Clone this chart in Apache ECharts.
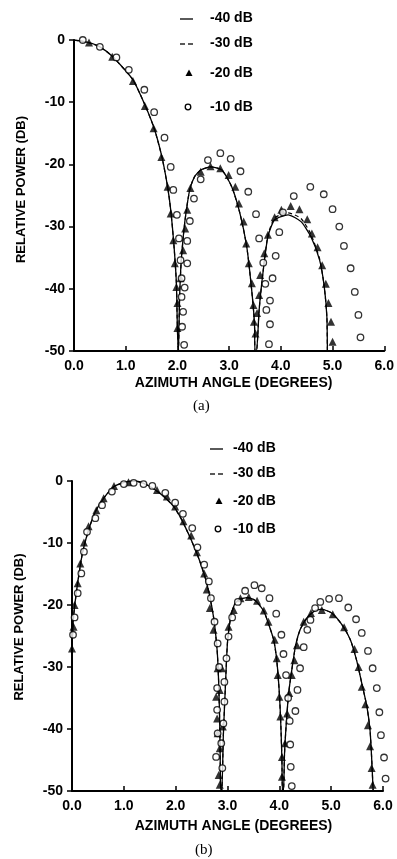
<!DOCTYPE html>
<html>
<head>
<meta charset="utf-8">
<script src="https://cdn.jsdelivr.net/npm/echarts@6/dist/echarts.min.js"></script>
<style>
html,body{margin:0;padding:0;background:#fff;}
#chart{width:397px;height:859px;}
</style>
</head>
<body>
<div id="chart"></div>
<script>
// ---------- tick labels / names ----------
const xTickLabels = ['0.0','1.0','2.0','3.0','4.0','5.0','6.0'];
const yTickLabels = ['-50','-40','-30','-20','-10','0'];
const seriesNames = ['-40 dB','-30 dB','-20 dB','-10 dB'];
const xAxisTitle = 'AZIMUTH ANGLE (DEGREES)';
const yAxisTitle = 'RELATIVE POWER (DB)';
const panelCaptions = ['(a)','(b)'];

// ---------- panel (a) ----------
const a_m40 = [[0,0],[0.27,-0.4],[0.50,-1.1],[0.75,-2.7],[1.14,-6.4],[1.37,-10.4],[1.55,-14.2],[1.70,-18.8],[1.81,-23.6],[1.87,-27.3],[1.93,-32.7],[1.98,-39.1],[2.00,-46.6],[2.02,-50],
  [2.04,-42],[2.07,-36],[2.12,-31],[2.17,-27.5],[2.24,-24],[2.33,-22],[2.45,-20.9],[2.64,-20.4],[2.86,-20.9],[3.05,-23.6],[3.21,-27.9],[3.34,-33.2],[3.43,-39.7],[3.49,-45.5],[3.50,-50],
  [3.53,-50],[3.58,-43.4],[3.66,-37],[3.75,-31.6],[3.88,-28.9],[4.14,-28.1],[4.39,-29.2],[4.58,-31.6],[4.75,-35.4],[4.84,-39.7],[4.89,-44.5],[4.90,-50]];
const a_m30 = [[0,0],[0.27,-0.4],[0.50,-1.1],[0.75,-2.7],[1.14,-6.4],[1.37,-10.4],[1.55,-14.2],[1.70,-18.8],[1.81,-23.6],[1.87,-27.3],[1.93,-32.7],[1.98,-39.1],[2.00,-46.6],[2.02,-50],
  [2.04,-42],[2.07,-36],[2.12,-31],[2.17,-27.5],[2.24,-24],[2.33,-22],[2.45,-20.9],[2.64,-20.4],[2.86,-20.9],[3.05,-23.6],[3.21,-27.9],[3.34,-33.2],[3.43,-39.7],[3.49,-45.5],[3.50,-50],
  [3.53,-50],[3.58,-43.4],[3.66,-37],[3.75,-31.4],[3.88,-28.6],[4.14,-27.8],[4.39,-28.7],[4.58,-31.2],[4.75,-35.2],[4.84,-39.7],[4.89,-44.5],[4.90,-50]];
const a_m20 = [[0.29,-0.4],[0.74,-2.7],[1.14,-6.6],[1.37,-10.6],[1.54,-14.2],[1.69,-18.8],[1.81,-23.6],[1.87,-27.9],[1.92,-32.2],[1.95,-35.9],[1.98,-39.7],[2.00,-42.3],[2.00,-46.3],
  [2.06,-38.3],[2.11,-33.8],[2.15,-30.3],[2.19,-27.3],[2.25,-23.8],[2.45,-21.2],[2.64,-20.3],[2.83,-20.6],[2.99,-21.7],[3.12,-23.6],[3.19,-26.3],[3.28,-29.2],[3.33,-32.7],[3.38,-35.9],[3.44,-39.1],[3.47,-42.6],[3.48,-45.3],[3.51,-47.2],
  [3.54,-43.9],[3.58,-41],[3.60,-37.8],[3.68,-34.3],[3.75,-31.3],[3.88,-28.5],[4.01,-27.3],[4.19,-26.7],[4.36,-27.2],[4.51,-28.8],[4.60,-31.1],[4.71,-33.3],[4.80,-36.2],[4.87,-39.2],[4.92,-42.3],[4.97,-45.3],[5.00,-48.5]];
const a_m10 = [[0.17,0],[0.50,-1.1],[0.82,-2.8],[1.06,-4.8],[1.36,-8.0],[1.55,-11.6],[1.75,-15.7],[1.87,-20.4],[1.92,-24.1],[1.99,-28.1],[2.03,-31.9],[2.06,-35.4],[2.08,-38.3],[2.08,-41.3],[2.11,-43.7],[2.09,-46.1],[2.13,-49.0],
  [2.14,-39.8],[2.19,-35.9],[2.19,-32.3],[2.24,-29.1],[2.32,-25.5],[2.45,-22.4],[2.59,-19.3],[2.83,-18.2],[3.03,-19.1],[3.22,-21.1],[3.37,-24.4],[3.52,-28.0],[3.58,-31.9],[3.66,-35.8],[3.70,-39.2],[3.72,-43.4],[3.77,-48.9],
  [3.79,-45.7],[3.79,-41.9],[3.84,-38.3],[3.90,-34.7],[3.97,-30.9],[4.04,-27.7],[4.25,-25.1],[4.57,-23.6],[4.83,-24.8],[5.00,-27.2],[5.13,-30.0],[5.22,-33.1],[5.35,-36.7],[5.43,-40.5],[5.50,-44.2],[5.54,-47.8]];

// ---------- panel (b) ----------
const b_m40 = [[0,-27],[0.03,-21.9],[0.10,-17.0],[0.20,-11.7],[0.32,-7.9],[0.45,-4.95],[0.61,-2.8],[0.81,-0.9],[1.06,-0.1],[1.22,0],[1.45,-0.65],[1.70,-2.0],[1.96,-4.1],[2.15,-6.8],[2.41,-11.7],[2.60,-16.5],[2.73,-21.9],[2.80,-27.3],[2.83,-32.6],[2.85,-39.1],[2.86,-45.5],[2.87,-50],
  [2.89,-50],[2.92,-41],[2.96,-33],[3.00,-26],[3.06,-22],[3.13,-20],[3.21,-19.2],[3.38,-18.8],[3.54,-19.3],[3.70,-21.0],[3.79,-23.0],[3.89,-25.6],[3.95,-28.9],[4.00,-34.2],[4.03,-39.6],[4.05,-45.0],[4.06,-50],
  [4.08,-50],[4.10,-44],[4.13,-39.6],[4.18,-34.2],[4.24,-30.5],[4.31,-26.7],[4.40,-24.0],[4.53,-22.1],[4.69,-20.9],[4.82,-20.7],[5.01,-21.3],[5.21,-23.2],[5.37,-25.6],[5.49,-28.9],[5.59,-32.6],[5.69,-36.4],[5.75,-40.2],[5.78,-44.5],[5.81,-50]];
const b_m30 = [[0,-27],[0.03,-21.9],[0.10,-17.0],[0.20,-11.7],[0.32,-7.9],[0.45,-4.95],[0.61,-2.8],[0.81,-0.9],[1.06,-0.1],[1.22,0],[1.45,-0.65],[1.70,-2.0],[1.96,-4.1],[2.15,-6.8],[2.41,-11.7],[2.60,-16.5],[2.73,-21.9],[2.80,-27.3],[2.83,-32.6],[2.85,-39.1],[2.86,-45.5],[2.87,-50],
  [2.89,-50],[2.92,-41],[2.96,-33],[3.00,-26],[3.06,-22],[3.13,-20],[3.21,-19.2],[3.38,-18.8],[3.54,-19.3],[3.70,-21.0],[3.79,-23.0],[3.89,-25.6],[3.95,-28.9],[4.00,-34.2],[4.03,-39.6],[4.05,-45.0],[4.06,-50],
  [4.08,-50],[4.10,-44],[4.13,-39.6],[4.18,-34.2],[4.24,-30.5],[4.31,-26.7],[4.40,-24.0],[4.53,-22.1],[4.69,-20.9],[4.82,-20.7],[5.01,-21.3],[5.21,-23.2],[5.37,-25.6],[5.49,-28.9],[5.59,-32.6],[5.69,-36.4],[5.75,-40.2],[5.78,-44.5],[5.81,-50]];
const b_m20 = [[0,-27],[0.03,-23.5],[0.05,-20],[0.11,-16.5],[0.16,-13.3],[0.23,-9.9],[0.32,-7.3],[0.47,-4.7],[0.61,-2.8],[0.81,-0.8],[1.09,-0.2],[1.64,-1.45],[1.83,-2.5],[1.99,-4.1],[2.15,-6.5],[2.30,-8.8],[2.41,-11.5],[2.55,-14.9],[2.60,-17.5],[2.66,-20.5],[2.73,-24.0],[2.81,-30.2],[2.85,-33.7],[2.78,-34.8],[2.80,-38.3],[2.81,-40.7],[2.85,-43.1],[2.83,-47.4],[2.85,-49.0],
  [2.89,-30.2],[2.91,-39.6],[3.02,-23.5],[3.12,-20.8],[3.25,-18.9],[3.41,-18.7],[3.57,-19.3],[3.70,-20.9],[3.79,-22.7],[3.91,-25.6],[3.95,-28.6],[3.97,-31.3],[4.00,-34.8],[4.02,-38.0],[4.05,-44.5],[4.05,-47.7],
  [4.11,-42.3],[4.15,-37.5],[4.19,-34.2],[4.24,-31.3],[4.29,-28.9],[4.34,-26.5],[4.47,-22.7],[4.61,-21.3],[4.82,-20.8],[5.03,-21.5],[5.25,-23.6],[5.45,-27.1],[5.53,-30.0],[5.59,-33.2],[5.66,-36.0],[5.71,-39.4],[5.75,-42.8],[5.78,-46.3],[5.80,-49.0]];
const b_m10 = [[0.02,-24.8],[0.05,-22.0],[0.11,-18.1],[0.18,-14.9],[0.23,-11.4],[0.29,-8.2],[0.45,-6.0],[0.58,-3.9],[0.77,-1.7],[1.00,-0.5],[1.19,-0.3],[1.38,-0.5],[1.55,-0.8],[1.80,-1.9],[1.99,-3.5],[2.14,-5.3],[2.32,-7.6],[2.42,-10.7],[2.55,-13.5],[2.64,-16.2],[2.68,-18.9],[2.75,-22.7],[2.81,-26.2],[2.84,-30.0],[2.80,-33.4],[2.80,-36.9],[2.81,-40.7],[2.78,-44.5],
  [2.90,-46.3],[2.88,-42.3],[2.92,-39.1],[2.94,-35.6],[2.94,-32.4],[2.98,-28.6],[3.02,-25.1],[3.09,-22.0],[3.20,-19.5],[3.34,-17.7],[3.52,-16.8],[3.66,-17.3],[3.81,-18.9],[3.94,-21.4],[4.04,-24.8],[4.08,-27.9],[4.13,-31.3],[4.17,-35.0],[4.20,-38.7],[4.21,-42.5],[4.22,-46.1],[4.24,-49.2],
  [4.31,-37.1],[4.35,-33.7],[4.40,-30.2],[4.47,-26.8],[4.54,-24.0],[4.60,-22.4],[4.69,-20.5],[4.79,-19.5],[4.96,-19.0],[5.15,-18.9],[5.33,-20.4],[5.48,-22.3],[5.59,-24.5],[5.71,-27.4],[5.80,-30.2],[5.88,-33.4],[5.93,-37.3],[5.96,-41.0],[6.02,-44.6],[6.05,-48.0]];

const panelData = [[a_m40,a_m30,a_m20,a_m10],[b_m40,b_m30,b_m20,b_m10]];

// ---------- styling ----------
const FONT = "'Liberation Sans', Arial, sans-serif";
const grids = [
  {left:74, top:40, width:313, height:311},
  {left:72, top:481, width:311, height:310}
];
const xNameGap = [25, 28];
const yNameGap = [46, 46];
const xNamePad = [[0,0,0,9],[0,0,0,12]];
const yNamePad = [[0,0,0,12],[0,0,0,18]];

function xAxisFor(i){
  return {
    gridIndex:i, type:'value', min:0, max:6, interval:1,
    name:xAxisTitle, nameLocation:'middle', nameGap:xNameGap[i],
    nameTextStyle:{fontFamily:FONT, fontWeight:'bold', fontSize:14, color:'#000', padding:xNamePad[i]},
    axisLine:{show:true, onZero:false, lineStyle:{color:'#000', width:2}},
    axisTick:{show:true, inside:true, length:5, lineStyle:{color:'#000', width:1.5}},
    axisLabel:{margin:8, fontFamily:FONT, fontWeight:'bold', fontSize:14, color:'#000',
      formatter:v => xTickLabels[Math.round(v)]},
    splitLine:{show:false}
  };
}
function yAxisFor(i){
  return {
    gridIndex:i, type:'value', min:-50, max:0, interval:10,
    name:yAxisTitle, nameLocation:'middle', nameGap:yNameGap[i], nameRotate:90,
    nameTextStyle:{fontFamily:FONT, fontWeight:'bold', fontSize:13, color:'#000', padding:yNamePad[i]},
    axisLine:{show:true, onZero:false, lineStyle:{color:'#000', width:2}},
    axisTick:{show:true, inside:false, length:5, lineStyle:{color:'#000', width:1.5}},
    axisLabel:{margin:9, fontFamily:FONT, fontWeight:'bold', fontSize:14, color:'#000',
      formatter:v => yTickLabels[Math.round((v+50)/10)]},
    splitLine:{show:false}
  };
}

const series = [];
for (let i=0;i<2;i++){
  const d = panelData[i];
  series.push({name:seriesNames[0], type:'line', xAxisIndex:i, yAxisIndex:i, data:d[0], symbol:'none', smooth:0.2,
    lineStyle:{color:'#000', width:1.3}, itemStyle:{color:'#000'}, z:2});
  series.push({name:seriesNames[1], type:'line', xAxisIndex:i, yAxisIndex:i, data:d[1], symbol:'none', smooth:0.2,
    lineStyle:{color:'#000', width:1.2, type:[4,3]}, itemStyle:{color:'#000'}, z:3});
  series.push({name:seriesNames[2], type:'scatter', xAxisIndex:i, yAxisIndex:i, data:d[2], symbol:'triangle', symbolSize:8,
    itemStyle:{color:'#000'}, clip:false, z:4});
  series.push({name:seriesNames[3], type:'scatter', xAxisIndex:i, yAxisIndex:i, data:d[3], symbol:'circle', symbolSize:6.5,
    itemStyle:{color:'#fff', borderColor:'#000', borderWidth:1.3}, clip:false, z:5});
}

// ---------- legend key (drawn as graphic) ----------
const keyRows = [[18,43,73,107],[448,473,501,529]];
const keyIconLeft = [180, 210];
const keyTextLeft = [210, 233];

function keyGroup(p){
  const x0 = keyIconLeft[p], r = keyRows[p], tx = keyTextLeft[p];
  const ch = [
    {type:'line', shape:{x1:x0, y1:r[0]+1, x2:x0+13, y2:r[0]+1}, style:{stroke:'#000', lineWidth:1.3}},
    {type:'line', shape:{x1:x0, y1:r[1]+1, x2:x0+5, y2:r[1]+1}, style:{stroke:'#000', lineWidth:1.3}},
    {type:'line', shape:{x1:x0+8, y1:r[1]+1, x2:x0+13, y2:r[1]+1}, style:{stroke:'#000', lineWidth:1.3}},
    {type:'polygon', shape:{points:[[x0+9,r[2]-3.5],[x0+12.5,r[2]+3],[x0+5.5,r[2]+3]]}, style:{fill:'#000'}},
    {type:'circle', shape:{cx:x0+8, cy:r[3], r:2.8}, style:{fill:'#fff', stroke:'#000', lineWidth:1.3}}
  ];
  for (let k=0;k<4;k++){
    ch.push({type:'text', x:tx, y:r[k], style:{text:seriesNames[k], font:"bold 14px 'Liberation Sans', Arial, sans-serif", fill:'#000', verticalAlign:'middle', align:'left'}});
  }
  return {type:'group', children:ch};
}

const option = {
  backgroundColor:'#fff',
  animation:false,
  grid: grids,
  xAxis:[xAxisFor(0), xAxisFor(1)],
  yAxis:[yAxisFor(0), yAxisFor(1)],
  series: series,
  graphic:[
    keyGroup(0), keyGroup(1),
    {type:'text', left:193, top:399, style:{text:panelCaptions[0], font:"15px 'Liberation Serif', 'Times New Roman', serif", fill:'#000'}},
    {type:'text', left:195, top:843, style:{text:panelCaptions[1], font:"15px 'Liberation Serif', 'Times New Roman', serif", fill:'#000'}}
  ]
};

const chart = echarts.init(document.getElementById('chart'), null, {renderer:'canvas'});
chart.setOption(option);
</script>
</body>
</html>
